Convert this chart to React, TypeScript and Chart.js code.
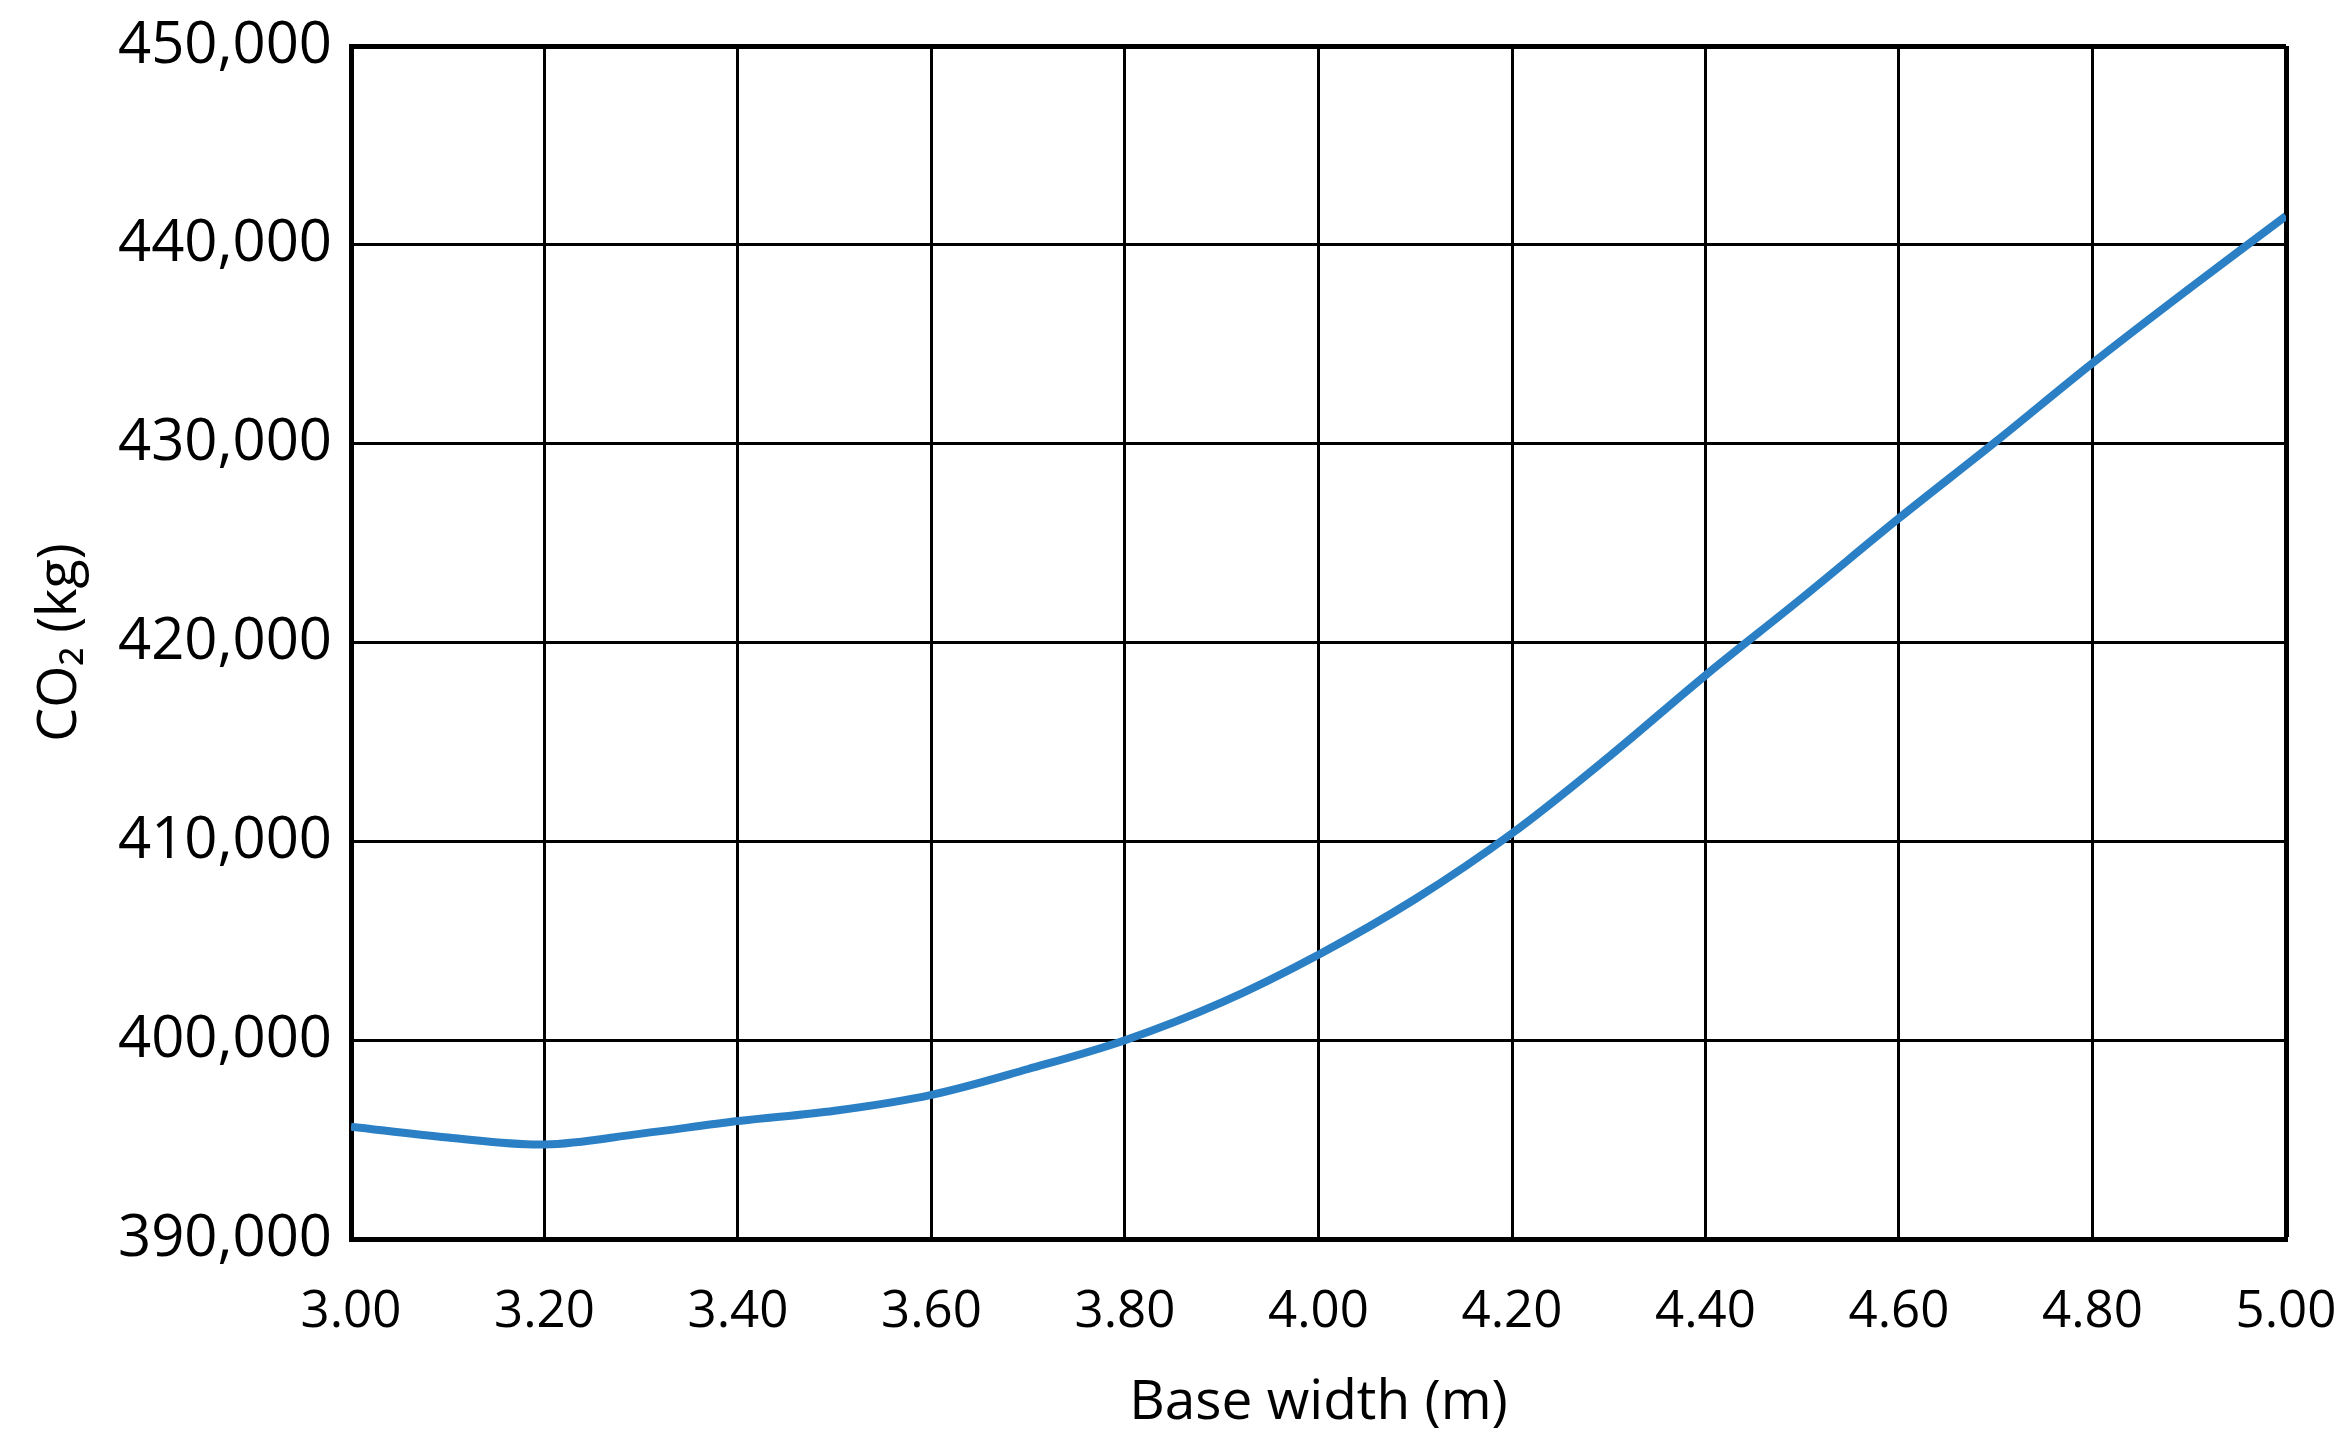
import { useEffect, useRef } from "react";
import { Chart, registerables } from "chart.js";

Chart.register(...registerables);

// base width (m) and embodied CO2 (kg), every 0.1 m
const baseWidths = [3.0, 3.1, 3.2, 3.3, 3.4, 3.5, 3.6, 3.7, 3.8, 3.9, 4.0, 4.1, 4.2, 4.3, 4.4, 4.5, 4.6, 4.7, 4.8, 4.9, 5.0];
const co2Values = [
  395650, 395100, 394750, 395300, 395930, 396450, 397250, 398550, 400000, 401900, 404300,
  407100, 410400, 414250, 418350, 422250, 426250, 430100, 434050, 437800, 441450,
];

const xTitle = "Base width (m)";
const yTitle = "CO\u2082 (kg)";

const FONT = "'Open Sans', 'Noto Sans', sans-serif";

export default function App() {
  const canvasRef = useRef<HTMLCanvasElement>(null);

  useEffect(() => {
    if (!canvasRef.current) return;
    const points = baseWidths.map((x, i) => ({ x, y: co2Values[i] }));

    const chart = new Chart(canvasRef.current, {
      type: "line",
      data: {
        datasets: [
          {
            label: "CO2",
            data: points,
            borderColor: "#2b80c5",
            borderWidth: 8,
            pointRadius: 0,
            tension: 0.35,
            fill: false,
          },
        ],
      },
      options: {
        animation: false,
        responsive: true,
        maintainAspectRatio: false,
        layout: { padding: { top: 46, right: 66, left: 0, bottom: 0 } },
        plugins: {
          legend: { display: false },
          tooltip: { enabled: false },
        },
        scales: {
          x: {
            type: "linear",
            min: 3,
            max: 5,
            afterFit: (scale) => {
              scale.height = 209;
              scale.paddingLeft = 0;
              scale.paddingRight = 0;
            },
            ticks: {
              stepSize: 0.2,
              color: "#000",
              padding: 43,
              font: { family: FONT, size: 51 },
              callback: (v) => Number(v).toFixed(2),
            },
            grid: {
              color: "#000",
              drawTicks: false,
              lineWidth: (ctx) => (ctx.index === ctx.scale.ticks.length - 1 ? 5 : 3),
            },
            border: { color: "#000", width: 5 },
            title: {
              display: true,
              text: xTitle,
              color: "#000",
              font: { family: FONT, size: 55 },
              padding: { top: 0, bottom: 12 },
            },
          },
          y: {
            min: 390000,
            max: 450000,
            afterFit: (scale) => {
              scale.width = 351;
              scale.paddingTop = 0;
              scale.paddingBottom = 0;
            },
            ticks: {
              stepSize: 10000,
              color: "#000",
              padding: 19,
              font: { family: FONT, size: 58 },
              callback: (v) => Number(v).toLocaleString("en-US"),
            },
            grid: {
              color: "#000",
              drawTicks: false,
              lineWidth: (ctx) => (ctx.index === ctx.scale.ticks.length - 1 ? 5 : 3),
            },
            border: { color: "#000", width: 5 },
            title: {
              display: true,
              text: yTitle,
              color: "#000",
              font: { family: FONT, size: 54 },
              padding: { top: 28, bottom: 0 },
            },
          },
        },
      },
    });

    return () => chart.destroy();
  }, []);

  return (
    <div style={{ position: "absolute", left: 0, top: 0, width: 2352, height: 1448, background: "#fff" }}>
      <canvas ref={canvasRef} />
    </div>
  );
}
